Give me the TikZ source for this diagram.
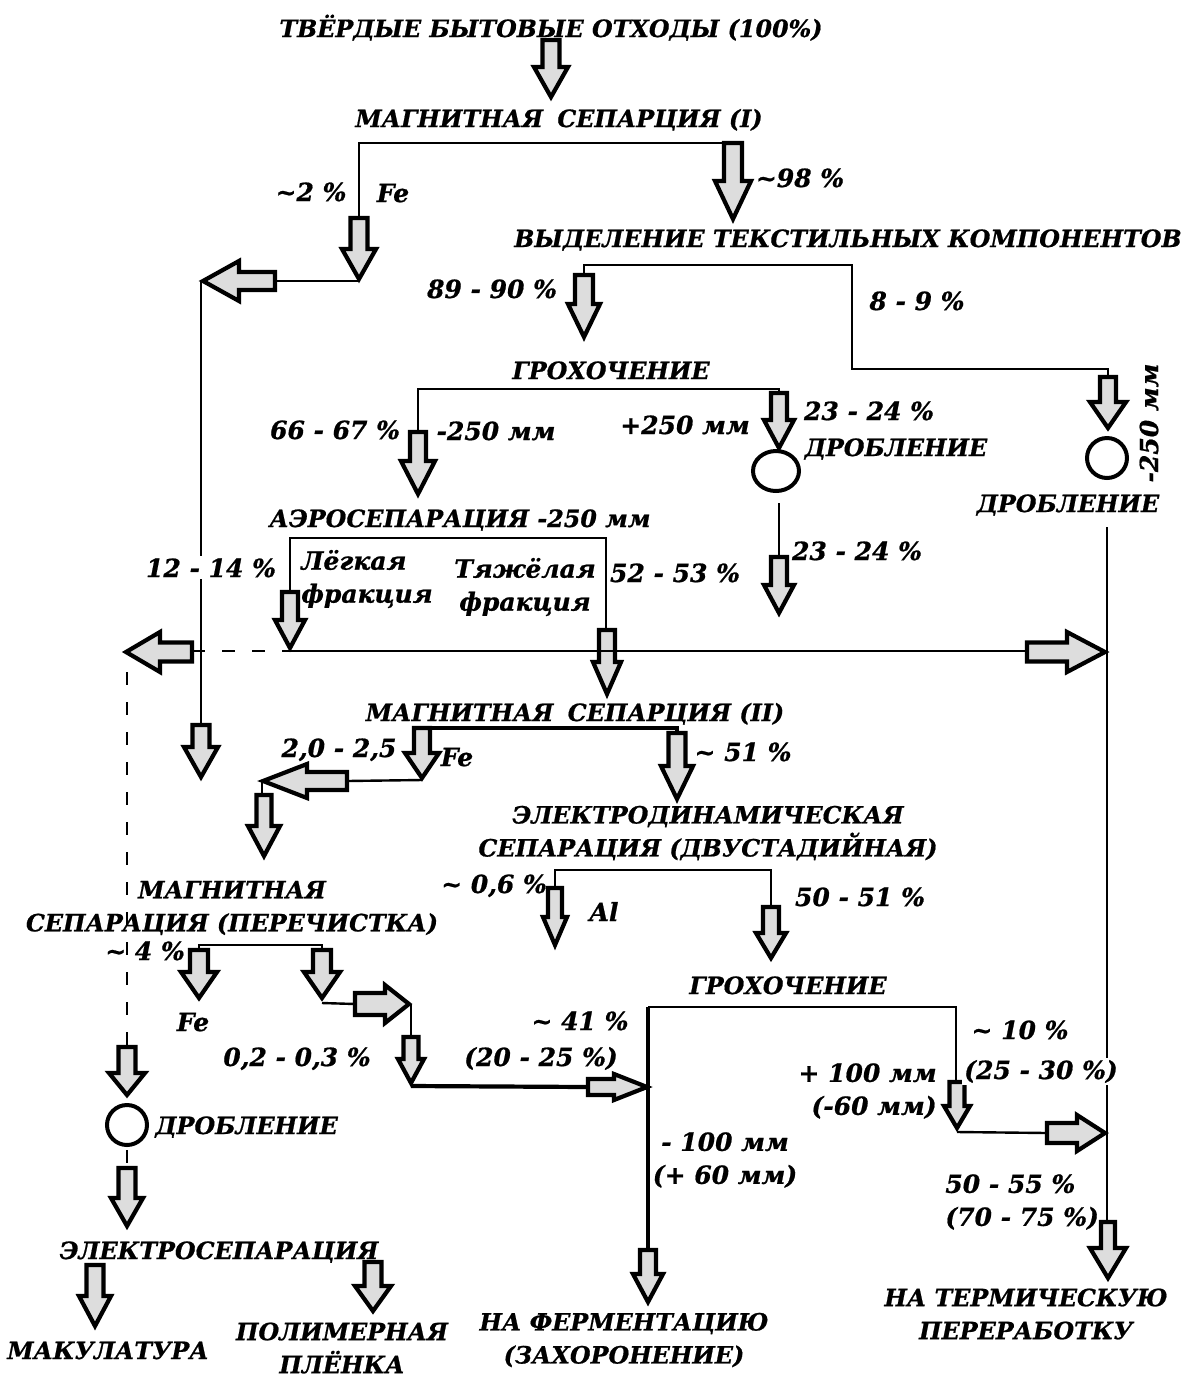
\documentclass[tikz,border=0pt]{standalone}
\usepackage{fontspec}
\setmainfont{DejaVu Serif}[BoldItalicFeatures={FakeBold=0.8}]
\usetikzlibrary{shapes.geometric}
\definecolor{afill}{RGB}{221,221,221}
\tikzset{
  blk/.style={draw=black, fill=afill, line width=2.1pt, line join=miter},
  conn/.style={draw=black, line width=1.2pt},
  thickconn/.style={draw=black, line width=2.1pt},
  dashconn/.style={draw=black, line width=1.2pt, dash pattern=on 6.5pt off 8.5pt},
  lbl/.style={font=\bfseries\itshape\fontsize{12.5}{16.5}\selectfont, inner sep=1pt, anchor=base},
  mlbl/.style={font=\bfseries\itshape\fontsize{12.5}{16.5}\selectfont, inner sep=1pt, align=center},
  ttl/.style={font=\bfseries\itshape\fontsize{11.9}{16.5}\selectfont, inner sep=1pt, anchor=base},
  mttl/.style={font=\bfseries\itshape\fontsize{11.9}{16.5}\selectfont, inner sep=1pt, align=center},
  crusher/.style={draw=black, circle, line width=2pt, minimum size=20pt, inner sep=0pt},
  crushere/.style={draw=black, ellipse, line width=2pt, minimum width=23pt, minimum height=20pt, inner sep=0pt},
}
\newcommand\BlkDownX[6]{\draw[blk] ({#1-#6},{#2}) -- ({#1+#6},{#2}) -- ({#1+#6},{#3-#4}) -- ({#1+#5},{#3-#4}) -- ({#1},{#3}) -- ({#1-#5},{#3-#4}) -- ({#1-#6},{#3-#4}) -- cycle;}
\newcommand\BlkDown[3]{\BlkDownX{#1}{#2}{#3}{30}{17}{8.5}}
\newcommand\BlkRight[6]{\draw[blk] ({#2},{#1-#6}) -- ({#3-#4},{#1-#6}) -- ({#3-#4},{#1-#5}) -- ({#3},{#1}) -- ({#3-#4},{#1+#5}) -- ({#3-#4},{#1+#6}) -- ({#2},{#1+#6}) -- cycle;}
\newcommand\BlkLeft[6]{\draw[blk] ({#2},{#1-#6}) -- ({#3+#4},{#1-#6}) -- ({#3+#4},{#1-#5}) -- ({#3},{#1}) -- ({#3+#4},{#1+#5}) -- ({#3+#4},{#1+#6}) -- ({#2},{#1+#6}) -- cycle;}
\begin{document}
\begin{tikzpicture}[x=0.5pt,y=-0.5pt]
\useasboundingbox (0,0) rectangle (1188,1378);

% ---------- top ----------
\node[ttl] (tbo) at (551,37) {ТВЁРДЫЕ БЫТОВЫЕ ОТХОДЫ (100\%)};
\BlkDown{551}{40}{97}
\node[ttl] (ms1) at (559,127) {МАГНИТНАЯ\hspace{0.6em}СЕПАРЦИЯ (I)};
\draw[conn] (359,218) -- (359,143) -- (733,143);
\node[lbl] at (311,201) {\textasciitilde2 \%};
\node[lbl] at (393,202) {Fe};
\BlkDown{359}{218}{279}
\draw[conn] (359,281) -- (275,281);
\BlkLeft{281}{275}{203}{36}{20}{9}
\draw[conn] (201,281) -- (201,725);
\BlkDown{201}{725}{777}
\BlkDownX{733}{143}{219}{38}{18}{9}
\node[lbl] at (800,187) {\textasciitilde98 \%};

% ---------- textiles ----------
\node[ttl] (txt) at (848,247) {ВЫДЕЛЕНИЕ ТЕКСТИЛЬНЫХ КОМПОНЕНТОВ};
\draw[conn] (584,275) -- (584,265) -- (852,265) -- (852,369) -- (1108,369) -- (1108,377);
\BlkDownX{584}{275}{337}{33}{16}{9}
\node[lbl] at (492,298) {89 - 90 \%};
\node[lbl] at (917,310) {8 - 9 \%};
\BlkDownX{1108}{377}{428}{26}{18}{8}
\node[crusher] (cr2) at (1107,458) {};
\node[mlbl, rotate=90] at (1149,423) {-250 мм};
\node[ttl] at (1068,512) {ДРОБЛЕНИЕ};

% ---------- screening 1 ----------
\node[ttl] (gr1) at (611,379) {ГРОХОЧЕНИЕ};
\draw[conn] (418,432) -- (418,389) -- (779,389) -- (779,393);
\BlkDownX{418}{432}{494}{33}{17}{8}
\BlkDownX{779}{393}{448}{28}{15}{8}
\node[lbl] at (335,439) {66 - 67 \%};
\node[lbl] at (496,440) {-250 мм};
\node[lbl] at (685,434) {+250 мм};
\node[lbl] at (869,420) {23 - 24 \%};
\node[ttl] at (896,456) {ДРОБЛЕНИЕ};
\node[crushere] (cr1) at (776,471) {};
\draw[conn] (779,503) -- (779,557);
\BlkDownX{779}{557}{613}{28}{15}{8}
\node[lbl] at (857,560) {23 - 24 \%};

% ---------- aero ----------
\node[ttl] (aero) at (460,527) {АЭРОСЕПАРАЦИЯ -250 мм};
\draw[conn] (290,592) -- (290,538) -- (606,538) -- (606,630);
\BlkDownX{290}{592}{648}{28}{15}{8}
\BlkDownX{607}{630}{694}{32}{14}{8}
\node[lbl, fill=white] at (211,577) {12 - 14 \%};
\node[mlbl, align=left] at (367,579) {Лёгкая\\фракция};
\node[mlbl] at (525,587) {Тяжёлая\\фракция};
\node[lbl] at (675,582) {52 - 53 \%};
\draw[dashconn] (192,651) -- (290,651);
\draw[conn] (290,651) -- (1027,651);
\BlkRight{652}{1027}{1105}{38}{20}{9.5}
\BlkLeft{652}{192}{126}{34}{20}{9.5}
\draw[conn] (1107,527) -- (1107,1222);
\BlkDownX{1108}{1222}{1278}{30}{18}{7}

% ---------- magnetic II ----------
\node[ttl] (ms2) at (575,721) {МАГНИТНАЯ\hspace{0.6em}СЕПАРЦИЯ (II)};
\draw[thickconn] (422,728) -- (677,728) -- (677,733);
\BlkDownX{422}{728}{778}{25}{17}{8}
\BlkDownX{677}{733}{799}{33}{16}{8.5}
\node[lbl] at (339,757) {2,0 - 2,5};
\node[lbl] at (457,766) {Fe};
\node[lbl] at (743,761) {\textasciitilde\ 51 \%};
\draw[conn] (422,780) -- (347,781);
\BlkLeft{781}{347}{263}{44}{17}{9}
\draw[conn] (262,781) -- (262,795);
\BlkDownX{264}{795}{856}{30}{16}{7.5}

% ---------- electrodynamic ----------
\node[mttl] (eds) at (708,833) {ЭЛЕКТРОДИНАМИЧЕСКАЯ\\СЕПАРАЦИЯ (ДВУСТАДИЙНАЯ)};
\draw[conn] (555,888) -- (555,870) -- (771,870) -- (771,907);
\BlkDownX{555}{888}{945}{28}{12}{7}
\BlkDownX{771}{907}{958}{25}{15}{8}
\node[lbl] at (494,893) {\textasciitilde\ 0,6 \%};
\node[lbl] at (604,921) {Al};
\node[lbl] at (860,906) {50 - 51 \%};

% ---------- magnetic cleaning ----------
\node[mttl] (msc) at (232,908) {МАГНИТНАЯ\\СЕПАРАЦИЯ (ПЕРЕЧИСТКА)};
\node[lbl] at (145,960) {\textasciitilde\ 4 \%};
\draw[conn] (199,950) -- (199,945) -- (322,945) -- (322,950);
\BlkDownX{199}{950}{998}{26}{18}{9}
\BlkDownX{322}{950}{998}{26}{18}{9}
\node[lbl] at (193,1031) {Fe};
\node[lbl] at (297,1066) {0,2 - 0,3 \%};
\draw[conn] (322,1003) -- (355,1004);
\BlkRight{1004}{355}{409}{24}{19}{11}
\draw[conn] (411,1004) -- (411,1037);
\BlkDownX{411}{1037}{1083}{24}{13}{7.5}
\draw[thickconn] (411,1086) -- (588,1087);
\BlkRight{1087}{588}{647}{33}{13}{8}
\node[lbl] at (580,1030) {\textasciitilde\ 41 \%};
\node[lbl] at (541,1066) {(20 - 25 \%)};

% ---------- screening 2 ----------
\node[ttl] (gr2) at (788,994) {ГРОХОЧЕНИЕ};
\draw[thickconn] (648,1250) -- (648,1007);
\draw[conn] (648,1007) -- (956,1007) -- (956,1082);
\BlkDownX{957}{1082}{1128}{22}{13}{7.5}
\draw[conn] (957,1132) -- (1047,1133);
\BlkRight{1133}{1047}{1105}{28}{18}{10}
\node[lbl] at (1020,1039) {\textasciitilde\ 10 \%};
\node[lbl, fill=white] at (1041,1079) {(25 - 30 \%)};
\node[mlbl, align=right, anchor=east] at (939,1091) {+ 100 мм\\(-60 мм)};
\node[mlbl] at (725,1160) {- 100 мм\\(+ 60 мм)};
\node[mlbl, align=left, anchor=west] at (943,1202) {50 - 55 \%\\(70 - 75 \%)};
\BlkDownX{648}{1250}{1302}{28}{15}{8}

% ---------- left dashed branch ----------
\draw[dashconn] (127,672) -- (127,1045);
\BlkDownX{127}{1047}{1095}{22}{18}{8.5}
\node[crusher] (cr3) at (127,1125) {};
\node[ttl, anchor=base west] at (153,1134) {ДРОБЛЕНИЕ};
\draw[dashconn] (cr3.south) ++(0,3) -- (127,1168);
\BlkDownX{127}{1168}{1226}{28}{16}{8.5}
\node[ttl] (es) at (219,1259) {ЭЛЕКТРОСЕПАРАЦИЯ};
\BlkDownX{95}{1265}{1326}{30}{16}{8.5}
\BlkDownX{373}{1262}{1311}{25}{18}{8.5}
\node[ttl] at (108,1359) {МАКУЛАТУРА};
\node[mttl] at (342,1348) {ПОЛИМЕРНАЯ\\ПЛЁНКА};

% ---------- outputs ----------
\node[mttl] at (624,1340) {НА ФЕРМЕНТАЦИЮ\\(ЗАХОРОНЕНИЕ)};
\node[mttl] at (1026,1314) {НА ТЕРМИЧЕСКУЮ\\ПЕРЕРАБОТКУ};
\end{tikzpicture}
\end{document}
